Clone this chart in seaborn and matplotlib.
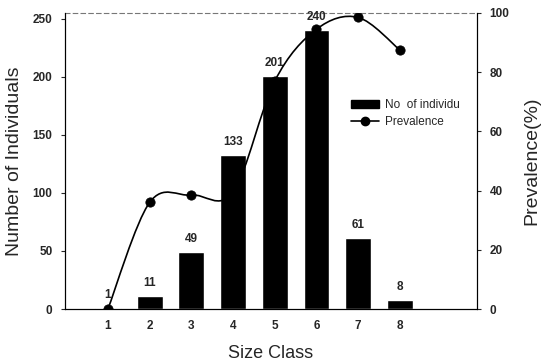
import numpy as np
import pandas as pd
import matplotlib
matplotlib.use("Agg")
import matplotlib.pyplot as plt
from matplotlib.path import Path
from matplotlib.patches import PathPatch, Patch
from matplotlib.lines import Line2D
import seaborn as sns

size_class = ["1", "2", "3", "4", "5", "6", "7", "8"]
individuals = [1, 11, 49, 133, 201, 240, 61, 8]
prevalence = [0, 36, 38.5, 39.5, 77, 94.5, 98.5, 87.5]

sns.set_theme(style="white")
plt.rcParams['font.family'] = ['Liberation Sans', 'DejaVu Sans']

df = pd.DataFrame({"Size Class": size_class, "Individuals": individuals,
                   "Prevalence": prevalence})

fig = plt.figure(figsize=(5.48, 3.61), dpi=100)
ax = fig.add_axes([0.1186, 0.144, 0.7518, 0.820])

sns.barplot(data=df, x="Size Class", y="Individuals", color="black",
            width=0.62, ax=ax, saturation=1)
ax.set_xlim(-1.03, 8.85)
ax.set_ylim(0, 255)
ax.set_yticks([0, 50, 100, 150, 200, 250])
for i, v in enumerate(individuals):
    ax.text(i, v + 6, str(v), ha="center", va="bottom", fontsize=8.5,
            fontweight="bold")

ax2 = ax.twinx()
ax2.set_ylim(0, 100)
ax2.set_yticks([0, 20, 40, 60, 80, 100])

# smooth curve through the points (Catmull-Rom rendered as cubic Bezier path)
xs = np.arange(len(prevalence), dtype=float)
ys = np.array(prevalence, dtype=float)
verts = [(xs[0], ys[0])]
codes = [Path.MOVETO]
n = len(xs)
for i in range(n - 1):
    p0 = (xs[max(i - 1, 0)], ys[max(i - 1, 0)])
    p1 = (xs[i], ys[i])
    p2 = (xs[i + 1], ys[i + 1])
    p3 = (xs[min(i + 2, n - 1)], ys[min(i + 2, n - 1)])
    c1 = (p1[0] + (p2[0] - p0[0]) / 6, p1[1] + (p2[1] - p0[1]) / 6)
    c2 = (p2[0] - (p3[0] - p1[0]) / 6, p2[1] - (p3[1] - p1[1]) / 6)
    verts += [c1, c2, p2]
    codes += [Path.CURVE4, Path.CURVE4, Path.CURVE4]
patch = PathPatch(Path(verts, codes), facecolor="none", edgecolor="black",
                  lw=1.2, transform=ax2.transData, zorder=3)
ax2.add_patch(patch)
sns.scatterplot(x=xs, y=ys, color="black", s=45, ax=ax2, zorder=4,
                edgecolor="black")

for a in (ax, ax2):
    for s in a.spines.values():
        s.set_color("black")
        s.set_linewidth(0.8)
ax.spines["top"].set_linestyle((0, (4, 3)))
ax.spines["top"].set_color("#777777")
ax2.spines["top"].set_visible(False)

ax.tick_params(axis="y", direction="out", length=3, width=0.8, left=True,
               labelsize=8.5, pad=6)
ax.tick_params(axis="x", length=0, labelsize=8.5, pad=8)
ax2.tick_params(axis="y", direction="out", length=3, width=0.8, right=True,
                labelsize=8.5, pad=6)
for lab in ax.get_xticklabels() + ax.get_yticklabels() + ax2.get_yticklabels():
    lab.set_fontweight("bold")

ax.set_xlabel("Size Class", fontsize=13, labelpad=9)
ax.set_ylabel("Number of Individuals", fontsize=14, labelpad=7)
ax2.set_ylabel("Prevalence(%)", fontsize=14, labelpad=10)

handles = [Patch(facecolor="black", edgecolor="black"),
           Line2D([0], [0], color="black", marker="o", markersize=6, lw=1.2)]
ax2.legend(handles, ["No  of individu", "Prevalence"], loc="upper left",
           bbox_to_anchor=(0.68, 0.73), frameon=False, fontsize=8.5,
           handlelength=2.4, handletextpad=0.5, borderpad=0, labelspacing=0.45)

fig.savefig("out.png", dpi=100)
